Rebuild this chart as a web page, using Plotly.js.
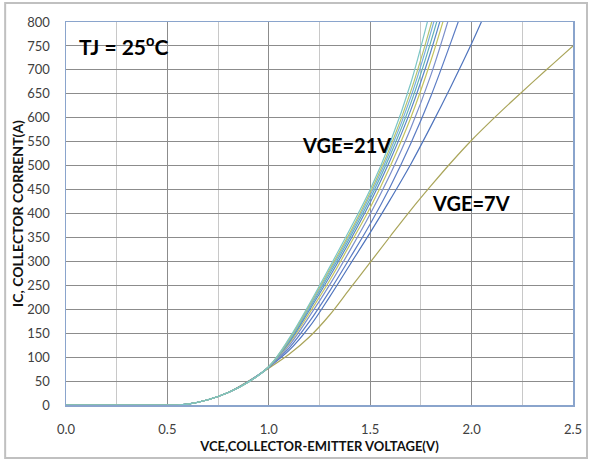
<!DOCTYPE html>
<html>
<head>
<meta charset="utf-8">
<script src="https://cdn.plot.ly/plotly-3.0.1.min.js"></script>
<style>html,body{margin:0;padding:0;background:#fff;}#chart{width:590px;height:465px;}</style>
</head>
<body>
<div id="chart"></div>
<script>
// VCE sample points (V)
const vce = [0, 0.5, 0.55, 0.6, 0.7, 0.8, 0.9, 1.0, 1.1, 1.2, 1.3, 1.4, 1.5, 1.6, 1.7, 1.8, 1.9, 2.0, 2.1, 2.2, 2.3, 2.4, 2.5];

// IC (A) per gate voltage
const ic_7V  = [0, 0, 0, 2, 11, 26, 50, 77, 106, 142, 188, 243, 298, 353, 407, 458, 507, 553, 595, 635, 674, 712, 750];
const ic_8V  = [0, 0, 0, 2, 11, 26, 49, 79, 114, 163, 226, 293, 360, 430, 503, 583, 667, 755, 850];
const ic_9V  = [0, 0, 0, 2, 11, 26, 49, 79, 119, 174, 238, 307, 378, 457, 546, 646, 760, 880];
const ic_10V = [0, 0, 0, 2, 11, 26, 49, 79, 124, 185, 251, 323, 399, 483, 578, 690, 825];
const ic_11V = [0, 0, 0, 2, 11, 26, 48, 80, 128, 192, 260, 335, 412, 500, 600, 720, 860];
const ic_13V = [0, 0, 0, 2, 11, 26, 48, 80, 131, 198, 268, 343, 423, 513, 616, 740, 885];
const ic_15V = [0, 0, 0, 2, 11, 26, 48, 80, 133, 202, 274, 350, 431, 523, 630, 760, 910];
const ic_17V = [0, 0, 0, 2, 11, 26, 48, 80, 135, 205, 279, 355, 438, 532, 643, 780, 935];
const ic_19V = [0, 0, 0, 2, 11, 26, 48, 80, 137, 208, 283, 360, 444, 540, 655, 795, 955];
const ic_21V = [0, 0, 0, 2, 11, 26, 48, 80, 139, 211, 288, 367, 450, 550, 672, 830, 1000];

const seriesNames = ['VGE=7V','VGE=8V','VGE=9V','VGE=10V','VGE=11V','VGE=13V','VGE=15V','VGE=17V','VGE=19V','VGE=21V'];
const seriesData = [ic_7V, ic_8V, ic_9V, ic_10V, ic_11V, ic_13V, ic_15V, ic_17V, ic_19V, ic_21V];
const seriesColors = ['#aaa55a','#4f74bd','#5b7cc4','#7b8fcb','#c4c45e','#5a86c8','#62b0b4','#78aee0','#b4c46e','#7cc6c6'];

const xTicks = [0, 0.5, 1.0, 1.5, 2.0, 2.5];
const xTickText = ['0.0','0.5','1.0','1.5','2.0','2.5'];

const traces = seriesData.map((ys, i) => ({
  x: vce.slice(0, ys.length),
  y: ys,
  name: seriesNames[i],
  type: 'scatter',
  mode: 'lines',
  line: {color: seriesColors[i], width: 1.2, shape: 'spline', smoothing: 1},
  hoverinfo: 'x+y+name'
}));

const tickFont = {family: 'Lato, "Open Sans", sans-serif', size: 13, color: '#404040'};
const layout = {
  width: 590, height: 465,
  margin: {l: 66, r: 17, t: 22, b: 60},
  paper_bgcolor: '#ffffff', plot_bgcolor: '#ffffff',
  showlegend: false,
  font: {family: 'Lato, "Open Sans", sans-serif'},
  xaxis: {
    range: [0, 2.5], tickvals: xTicks, ticktext: xTickText,
    showgrid: true, gridcolor: '#8c8c8c', gridwidth: 1,
    minor: {dtick: 0.25, tick0: 0, showgrid: true, gridcolor: '#c8c8c8', gridwidth: 1},
    showline: true, linecolor: '#8aa4cc', linewidth: 1.5, mirror: true,
    zeroline: false, ticks: '', ticklabelstandoff: 12, tickfont: tickFont,
    title: {text: 'VCE,COLLECTOR-EMITTER VOLTAGE(V)', font: {size: 13, color: '#111', weight: 'bold'}, standoff: 6}
  },
  yaxis: {
    range: [0, 800], dtick: 50, tick0: 0,
    showgrid: true, gridcolor: '#8c8c8c', gridwidth: 1,
    showline: true, linecolor: '#8aa4cc', linewidth: 1.5, mirror: true,
    zeroline: false, ticks: '', ticklabelstandoff: 12, tickfont: tickFont,
    title: {text: 'IC, COLLECTOR CORRENT(A)', font: {size: 14, color: '#111', weight: 'bold'}, standoff: 0}
  },
  annotations: [
    {x: 0.055, y: 752, xref: 'x', yref: 'y', xanchor: 'left', yanchor: 'middle', showarrow: false,
     text: 'TJ = 25<sup>o</sup>C', font: {size: 21, color: '#000', weight: 'bold'}},
    {x: 1.155, y: 543, xref: 'x', yref: 'y', xanchor: 'left', yanchor: 'middle', showarrow: false,
     text: 'VGE=21V', font: {size: 20, color: '#000', weight: 'bold'}},
    {x: 1.797, y: 422, xref: 'x', yref: 'y', xanchor: 'left', yanchor: 'middle', showarrow: false,
     text: 'VGE=7V', font: {size: 20, color: '#000', weight: 'bold'}}
  ],
  shapes: [
    {type: 'rect', xref: 'paper', yref: 'paper', x0: -0.12, x1: 1.0276, y0: -0.1384, y1: 1.0496,
     line: {color: '#c0c0c0', width: 2}, fillcolor: 'rgba(0,0,0,0)', layer: 'below'}
  ]
};

Plotly.newPlot('chart', traces, layout, {displayModeBar: false, staticPlot: true});
</script>
</body>
</html>
